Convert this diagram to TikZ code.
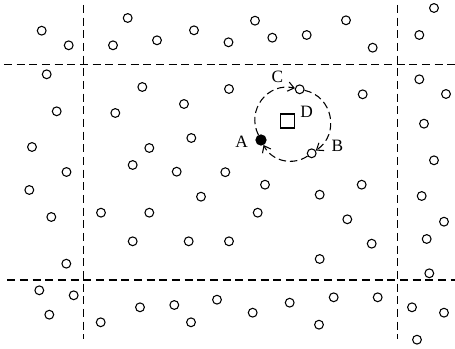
\documentclass[tikz,border=0pt]{standalone}
\usepackage{fontspec}
\setmainfont{Liberation Serif}
\usetikzlibrary{arrows.meta,positioning}

\tikzset{
  luoi/.style={line width=0.9pt, dash pattern=on 6pt off 3.5pt},
  diem/.style={line width=0.8pt},
  hat/.style={circle, draw, line width=0.8pt, minimum size=6.6pt, inner sep=0pt},
  hatden/.style={hat, fill=black, minimum size=7.6pt},
  vong/.style={line width=0.8pt, dash pattern=on 5.5pt off 3pt, -{Straight Barb[length=4.5pt,width=7pt]}},
  nhan/.style={font=\fontsize{13}{15}\selectfont, inner sep=0pt},
}

\begin{document}
\begin{tikzpicture}[x=0.75pt, y=-0.75pt]
  \useasboundingbox (0,0) rectangle (455,349);

  % Các đường chia ô
  \draw[luoi] (4,64.3) -- (455,64.3);
  \draw[luoi] (7.3,280) -- (455,280);
  \draw[luoi] (83.3,5) -- (83.3,339);
  \draw[luoi] (397.3,5) -- (397.3,339);

  % Các điểm rời rạc
  \foreach \x/\y in {41.7/30.7, 68.7/45.3, 127.7/18, 113/45.3, 157/40.3, 194/30.3,
      228.5/42.3, 255/20.7, 272.3/37.7, 306.7/35, 346/20.3, 372.7/47.7, 434/8, 419.3/35,
      46.7/74.3, 142.3/87, 229/89, 56.7/111.3, 115.3/113, 184/104, 32/147, 149.3/148,
      191.3/138, 132.7/165, 66.5/172, 176.7/171.7, 225.3/172.2, 362.7/94.3, 419.3/79.3,
      446/94, 424/123.7, 434/160.3,
      29.3/190, 51.3/217, 101/212.7, 149.3/212.7, 201/196.7, 132.7/241.3, 188.7/241.3,
      229/241.3, 66.3/263.7, 265/184.7, 319.7/194.7, 361.7/184.7, 421.7/196, 444/221.7,
      257.7/212.7, 347.3/219.3, 426.7/239, 371.7/243.7, 319.7/259, 429.3/273.3,
      39.3/290.3, 73.7/295.3, 49.3/314.7, 100.7/322.3, 140/307.3, 174.3/305, 191/322.3,
      217/299.7, 252.7/312.7, 289.7/302.7, 333.7/297.3, 377.7/297.3, 319/324.7,
      412/307.3, 444/312.7, 417/339.7}
    \draw[diem] (\x,\y) circle (3.3pt);

  % Các điểm A, B, C và ô D
  \node[hatden] (A) at (261,140) {};
  \node[hat] (B) at (311.7,153.3) {};
  \node[hat] (C) at (299.7,89.3) {};
  \node[draw, line width=0.8pt, minimum size=10.5pt, inner sep=0pt] (D) at (287.3,121) {};
  \node[nhan] (nA) at (241.7,141.7) {A};
  \node[nhan] (nB) at (337.3,145.7) {B};
  \node[nhan] (nC) at (277.3,77.3) {C};
  \node[nhan] (nD) at (306.7,111.7) {D};

  % Vòng đứt nét A -> C -> B -> A
  \draw[vong] (A) to[out=117, in=167, looseness=1.2] (C);
  \draw[vong] (C) to[out=-12, in=34, looseness=1.22] (B);
  \draw[vong] (B) to[out=214, in=297, looseness=1.02] (A);
\end{tikzpicture}
\end{document}
